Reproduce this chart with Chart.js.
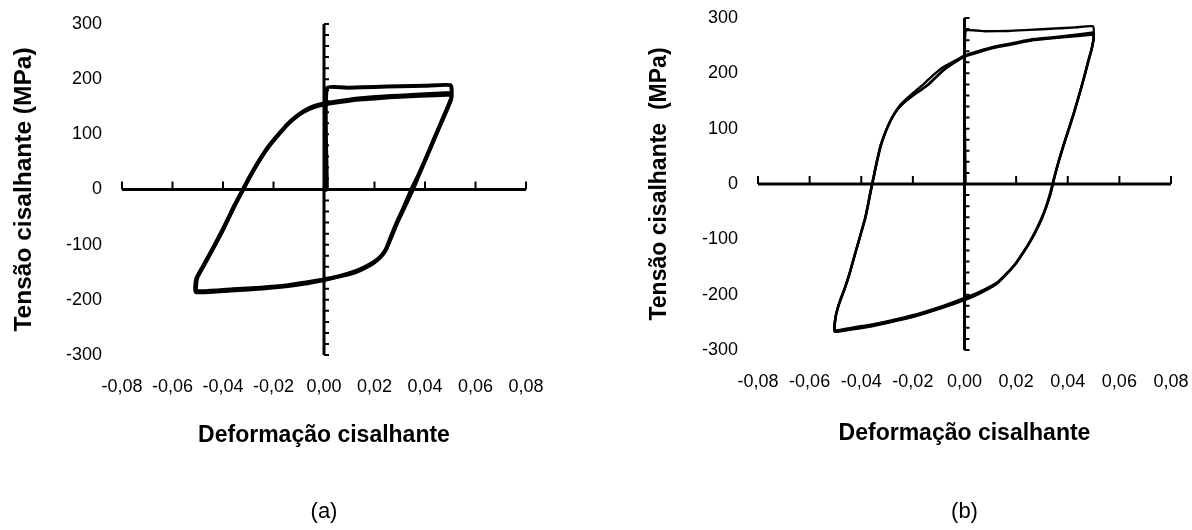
<!DOCTYPE html>
<html>
<head>
<meta charset="utf-8">
<script src="https://cdn.jsdelivr.net/npm/chart.js@4.4.1/dist/chart.umd.min.js"></script>
<style>
  html, body { margin: 0; padding: 0; background: #fff; }
  #wrap { position: relative; width: 1192px; height: 530px; }
  canvas { position: absolute; top: 0; }
  #chartA { left: 0; }
  #chartB { left: 596px; }
</style>
</head>
<body>
<div id="wrap">
  <canvas id="chartA" width="596" height="530"></canvas>
  <canvas id="chartB" width="596" height="530"></canvas>
</div>
<script>
// eixos
const strainTicks = [-0.08, -0.06, -0.04, -0.02, 0, 0.02, 0.04, 0.06, 0.08];
const stressTicks = [-300, -200, -100, 0, 100, 200, 300];
const minorStep = 20;

// (a) ciclo 1 (com carregamento inicial)
const strainA1 = [0, 0.0011, 0.0011, 0.010, 0.020, 0.030, 0.040, 0.0502, 0.0505, 0.0495, 0.047, 0.044, 0.041, 0.038, 0.0352, 0.032, 0.029, 0.0265, 0.0248, 0.023, 0.020, 0.016, 0.012, 0.006, 0.000, -0.008, -0.015, -0.025, -0.036, -0.0505, -0.0502, -0.0475, -0.045, -0.0425, -0.040, -0.0376, -0.035, -0.032, -0.0285, -0.025, -0.0215, -0.0177, -0.014, -0.0105, -0.0078, -0.004, 0.000, 0.007, 0.0135, 0.025, 0.038, 0.0503];
const stressA1 = [0, 0, 183, 184.5, 186, 187, 188, 189, 168, 155, 128, 96, 63, 31, 0, -31, -60, -88, -106, -119, -131, -141, -149, -157, -163, -169, -174, -178, -181, -184, -160, -137, -116, -95, -73, -50, -26, 0, 30, 57, 80, 101, 120, 134, 143, 151, 156, 161, 165, 169, 172, 175];
// (a) ciclo 2
const strainA2 = [0.0503, 0.0504, 0.0492, 0.0465, 0.0435, 0.0405, 0.0375, 0.0346, 0.0315, 0.0286, 0.0262, 0.0246, 0.0226, 0.0197, 0.0158, 0.0118, 0.0058, 0.000, -0.008, -0.016, -0.026, -0.037, -0.0508, -0.0506, -0.048, -0.0455, -0.043, -0.0405, -0.038, -0.0355, -0.0325, -0.029, -0.0255, -0.022, -0.0182, -0.0145, -0.011, -0.008, -0.0042, 0.000, 0.007, 0.014, 0.026, 0.038, 0.0505];
const stressA2 = [175, 165, 150, 122, 90, 58, 27, 0, -33, -62, -89, -108, -121, -133, -143, -151, -158, -164, -171, -176, -180, -183, -186, -162, -140, -119, -98, -76, -53, -29, -3, 27, 54, 78, 99, 118, 132, 141, 149, 154, 159, 163, 167, 170, 172];

// (b) ciclo 1 (com carregamento inicial)
const strainB1 = [0, 0.0004, 0.0004, 0.008, 0.017, 0.025, 0.035, 0.043, 0.0498, 0.0500, 0.0493, 0.048, 0.0462, 0.0444, 0.0422, 0.0402, 0.0383, 0.0365, 0.0352, 0.0342, 0.0333, 0.0318, 0.030, 0.028, 0.0256, 0.0228, 0.0197, 0.016, 0.0124, 0.006, 0.000, -0.008, -0.0168, -0.026, -0.0358, -0.044, -0.0502, -0.0500, -0.0485, -0.0465, -0.0446, -0.0425, -0.0402, -0.0385, -0.0375, -0.0366, -0.0358, -0.035, -0.034, -0.0325, -0.030, -0.0278, -0.0256, -0.0228, -0.0197, -0.0168, -0.0139, -0.011, -0.0078, -0.004, 0.000, 0.006, 0.0124, 0.020, 0.027, 0.038, 0.0499];
const stressB1 = [0, 0, 276, 276, 276.5, 278.5, 281, 283, 285, 265, 245, 222, 190, 160, 125, 96, 68, 40, 18, 0, -18, -40, -62, -82, -103, -124, -145, -164, -180, -196, -208, -222, -235, -246, -256, -262, -266, -242, -215, -190, -163, -128, -91, -63, -40, -18, 0, 18, 40, 70, 101, 122, 137, 150, 161, 170, 180, 193, 207, 219, 230, 239, 247, 254, 260, 265, 270];
// (b) ciclo 2
const strainB2 = [0.0499, 0.0500, 0.0492, 0.0478, 0.046, 0.0442, 0.042, 0.040, 0.038, 0.0362, 0.0349, 0.0339, 0.0329, 0.0314, 0.0296, 0.0276, 0.0252, 0.0224, 0.0193, 0.0157, 0.012, 0.0058, 0.000, -0.008, -0.0168, -0.026, -0.0358, -0.044, -0.0503, -0.0501, -0.0486, -0.0466, -0.0447, -0.0426, -0.0404, -0.0387, -0.0376, -0.0367, -0.0359, -0.0351, -0.0341, -0.0326, -0.0302, -0.028, -0.0258, -0.0230, -0.0200, -0.0170, -0.0140, -0.0105, -0.0070, -0.0035, 0.000, 0.006, 0.0124, 0.020, 0.027, 0.038, 0.0500];
const stressB2 = [270, 262, 242, 218, 187, 157, 122, 93, 65, 37, 15, -3, -21, -43, -64, -84, -105, -126, -147, -166, -182, -198, -210, -223, -236, -247, -257, -263, -267, -244, -217, -192, -165, -130, -93, -65, -42, -20, -2, 16, 38, 68, 99, 120, 136, 149, 160, 170, 180, 196, 210, 221, 231, 240, 248, 255, 261, 266, 272];
// (b) ciclo 3
const strainB3 = [0.0500, 0.0501, 0.0494, 0.0480, 0.0463, 0.0445, 0.0423, 0.0403, 0.0384, 0.0366, 0.0353, 0.0344, 0.0335, 0.0320, 0.0302, 0.0282, 0.0258, 0.0230, 0.0199, 0.0162, 0.0126, 0.0062, 0.000, -0.008, -0.0168, -0.026, -0.0358, -0.044, -0.0501, -0.0499, -0.0484, -0.0464, -0.0445, -0.0424, -0.0401, -0.0384, -0.0373, -0.0364, -0.0356, -0.0348, -0.0338, -0.0322, -0.0298, -0.0275, -0.0252, -0.0222, -0.0190, -0.0155, -0.0118, -0.0080, -0.0040, 0.000, 0.006, 0.0124, 0.020, 0.027, 0.038, 0.0500];
const stressB3 = [275, 266, 247, 224, 193, 163, 128, 99, 71, 43, 21, 3, -15, -37, -60, -80, -101, -122, -143, -162, -178, -194, -206, -220, -233, -244, -254, -260, -264, -240, -213, -188, -161, -126, -89, -61, -38, -16, 2, 20, 42, 72, 103, 125, 141, 155, 168, 182, 198, 212, 222, 232, 241, 249, 256, 262, 267, 274];

const FONT = "'Liberation Sans', Arial, sans-serif";
Chart.defaults.font.family = FONT;
Chart.defaults.color = '#000';

const toPoints = (xs, ys) => xs.map((v, i) => ({ x: v, y: ys[i] }));

// eixos cruzando na origem, estilo Excel
const crossAxes = {
  id: 'crossAxes',
  beforeDatasetsDraw(chart, args, opts) {
    const { ctx, scales: { x, y } } = chart;
    const x0 = x.getPixelForValue(0);
    const y0 = y.getPixelForValue(0);
    ctx.save();
    ctx.strokeStyle = '#000';
    ctx.lineWidth = 3;
    ctx.beginPath();
    ctx.moveTo(x.left, y0);
    ctx.lineTo(x.right, y0);
    ctx.moveTo(x0, y.top);
    ctx.lineTo(x0, y.bottom);
    ctx.stroke();

    ctx.lineWidth = 2;
    ctx.beginPath();
    strainTicks.forEach((v) => {
      const px = x.getPixelForValue(v);
      ctx.moveTo(px, y0);
      ctx.lineTo(px, y0 - 8);
    });
    for (let v = y.min; v <= y.max; v += minorStep) {
      const py = y.getPixelForValue(v);
      ctx.moveTo(x0, py);
      ctx.lineTo(x0 + 5, py);
    }
    ctx.stroke();
    ctx.restore();
  },
  afterDraw(chart, args, opts) {
    const { ctx, chartArea } = chart;
    ctx.save();
    ctx.fillStyle = '#000';
    ctx.font = `22px ${FONT}`;
    ctx.textAlign = 'center';
    ctx.textBaseline = 'middle';
    ctx.fillText(opts.caption, (chartArea.left + chartArea.right) / 2, opts.captionY);
    ctx.restore();
  },
};

const makeChart = (canvas, datasets, cfg) => new Chart(canvas, {
  type: 'scatter',
  data: { datasets },
  options: {
    responsive: false,
    animation: false,
    layout: { padding: { top: cfg.top, right: cfg.right, bottom: 0, left: 0 } },
    elements: {
      point: { radius: 0 },
      line: { borderColor: '#000', borderWidth: cfg.lineWidth, tension: 0.15, borderJoinStyle: 'round', fill: false },
    },
    plugins: {
      legend: { display: false },
      tooltip: { enabled: false },
      crossAxes: { caption: cfg.caption, captionY: 512 },
    },
    scales: {
      x: {
        min: -0.08,
        max: 0.08,
        afterBuildTicks: (scale) => { scale.ticks = strainTicks.map((v) => ({ value: v })); },
        afterFit: (scale) => {
          scale.height = cfg.xHeight;
          scale.paddingLeft = 0;
          scale.paddingRight = 0;
        },
        grid: { display: false, drawTicks: false },
        border: { display: false },
        ticks: {
          autoSkip: false,
          maxRotation: 0,
          padding: 21,
          font: { size: 18 },
          callback: (v) => v.toFixed(2).replace('.', ','),
        },
        title: {
          display: true,
          text: 'Deformação cisalhante',
          font: { size: 23, weight: 'bold' },
          padding: { top: 0, bottom: cfg.xTitlePad },
        },
      },
      y: {
        min: -300,
        max: 300,
        afterBuildTicks: (scale) => { scale.ticks = stressTicks.map((v) => ({ value: v })); },
        afterFit: (scale) => {
          scale.width = cfg.yWidth;
          scale.paddingTop = 0;
          scale.paddingBottom = 0;
        },
        grid: { display: false, drawTicks: false },
        border: { display: false },
        ticks: { padding: 20, font: { size: 18 } },
        title: {
          display: true,
          text: cfg.yTitle,
          font: { size: cfg.yTitleSize, weight: 'bold' },
          padding: { top: cfg.yTitlePad, bottom: 0 },
        },
      },
    },
  },
  plugins: [crossAxes],
});

makeChart(document.getElementById('chartA'), [
  { data: toPoints(strainA1, stressA1), showLine: true },
  { data: toPoints(strainA2, stressA2), showLine: true },
], {
  top: 24, right: 70, yWidth: 122, xHeight: 175, xTitlePad: 81,
  yTitleSize: 24.5, yTitlePad: 10, lineWidth: 4, caption: '(a)',
  yTitle: 'Tensão cisalhante (MPa)',
});

makeChart(document.getElementById('chartB'), [
  { data: toPoints(strainB1, stressB1), showLine: true },
  { data: toPoints(strainB2, stressB2), showLine: true },
  { data: toPoints(strainB3, stressB3), showLine: true },
], {
  top: 18, right: 21, yWidth: 162, xHeight: 180, xTitlePad: 83,
  yTitleSize: 23, yTitlePad: 50, lineWidth: 2.4, caption: '(b)',
  yTitle: 'Tensão cisalhante  (MPa)',
});
</script>
</body>
</html>
